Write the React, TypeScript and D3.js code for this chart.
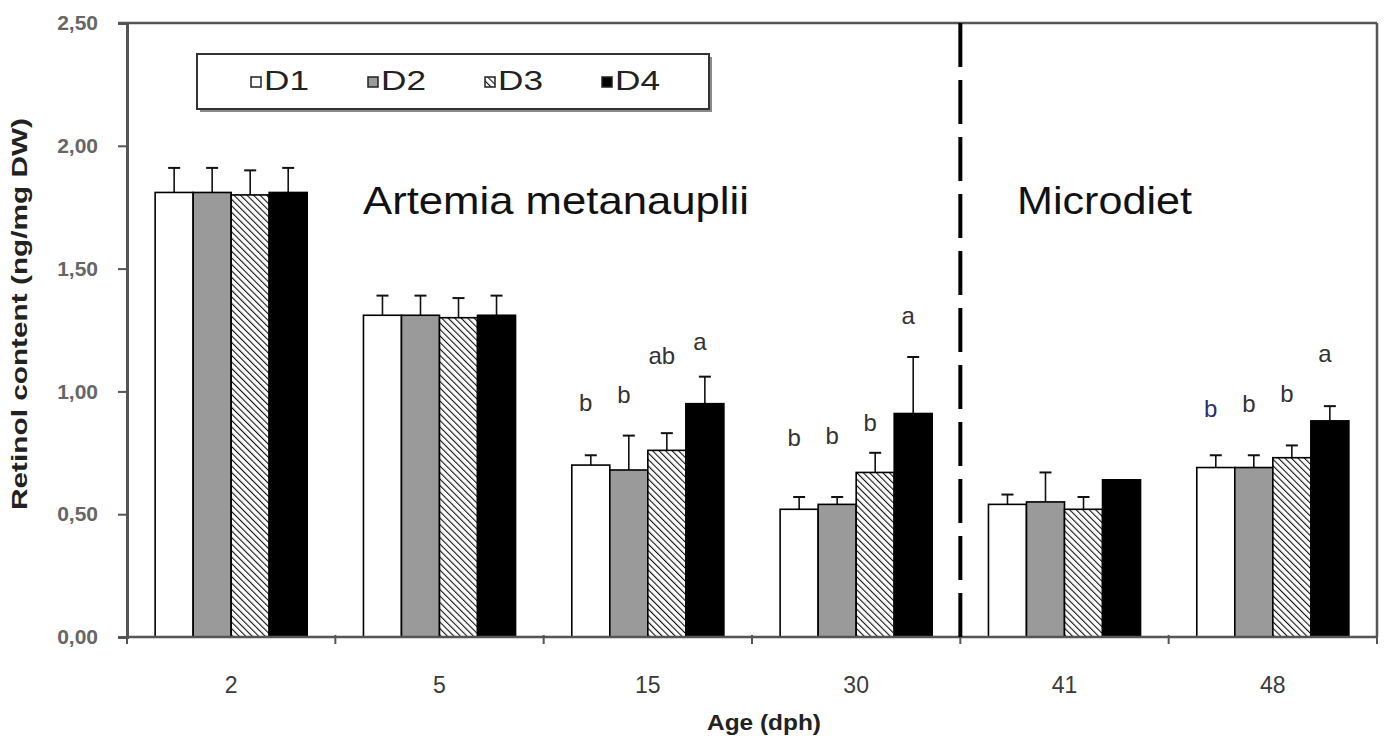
import * as d3 from 'd3';
import { useEffect, useRef } from 'react';

// ages (dph) and diets
const ages = ['2', '5', '15', '30', '41', '48'];
const diets = ['D1', 'D2', 'D3', 'D4'];

// retinol content (ng/mg DW), one array per diet
const d1Values = [1.81, 1.31, 0.70, 0.52, 0.54, 0.69];
const d2Values = [1.81, 1.31, 0.68, 0.54, 0.55, 0.69];
const d3Values = [1.80, 1.30, 0.76, 0.67, 0.52, 0.73];
const d4Values = [1.81, 1.31, 0.95, 0.91, 0.64, 0.88];

// standard deviations (upper bars only)
const d1Errors = [0.10, 0.08, 0.04, 0.05, 0.04, 0.05];
const d2Errors = [0.10, 0.08, 0.14, 0.03, 0.12, 0.05];
const d3Errors = [0.10, 0.08, 0.07, 0.08, 0.05, 0.05];
const d4Errors = [0.10, 0.08, 0.11, 0.23, 0, 0.06];

// significance letters and the level (in y units) where they sit
const d1Letters = ['', '', 'b', 'b', '', 'b'];
const d2Letters = ['', '', 'b', 'b', '', 'b'];
const d3Letters = ['', '', 'ab', 'b', '', 'b'];
const d4Letters = ['', '', 'a', 'a', '', 'a'];
const d1LetterLevels = [0, 0, 0.953, 0.81, 0, 0.932];
const d2LetterLevels = [0, 0, 0.985, 0.822, 0, 0.949];
const d3LetterLevels = [0, 0, 1.144, 0.871, 0, 0.993];
const d4LetterLevels = [0, 0, 1.201, 1.307, 0, 1.152];

const yTicks = [0, 0.5, 1, 1.5, 2, 2.5];
const phaseLabels = ['Artemia metanauplii', 'Microdiet'];
const phaseBreakAfter = '30';

const series = [
  { key: 'D1', values: d1Values, errors: d1Errors, letters: d1Letters, levels: d1LetterLevels },
  { key: 'D2', values: d2Values, errors: d2Errors, letters: d2Letters, levels: d2LetterLevels },
  { key: 'D3', values: d3Values, errors: d3Errors, letters: d3Letters, levels: d3LetterLevels },
  { key: 'D4', values: d4Values, errors: d4Errors, letters: d4Letters, levels: d4LetterLevels },
];

const W = 1385;
const H = 742;
const margin = { left: 127, top: 23, right: 8, bottom: 105 };
const FONT = '"Liberation Sans", Arial, sans-serif';

const fillFor = (k: string) =>
  k === 'D1' ? '#ffffff' : k === 'D2' ? '#9a9a9a' : k === 'D3' ? 'url(#hatch)' : '#000000';

export default function App() {
  const yAxisRef = useRef<SVGGElement>(null);

  const x = d3.scaleBand<string>()
    .domain(ages)
    .range([margin.left, W - margin.right])
    .paddingInner(0.27)
    .paddingOuter(0.135);
  const xInner = d3.scaleBand<string>().domain(diets).range([0, x.bandwidth()]);
  const y = d3.scaleLinear().domain([0, 2.5]).range([H - margin.bottom, margin.top]);

  const gap = (x.step() - x.bandwidth()) / 2;
  const boundaries = ages.map(a => (x(a) as number) - gap).concat([W - margin.right]);
  const breakX = (x(phaseBreakAfter) as number) + x.bandwidth() + gap;

  useEffect(() => {
    const g = d3.select(yAxisRef.current);
    const axis = d3.axisLeft(y)
      .tickValues(yTicks)
      .tickSize(9)
      .tickPadding(20)
      .tickFormat(d => d3.format('.2f')(d as number).replace('.', ','));
    g.call(axis as any);
    g.select('.domain').attr('stroke', '#555').attr('stroke-width', 3);
    g.selectAll('.tick line').attr('stroke', '#555').attr('stroke-width', 2);
    g.selectAll('.tick text')
      .attr('fill', '#666')
      .attr('font-size', 21)
      .attr('font-weight', 'bold')
      .attr('font-family', FONT);
  }, []);

  const x0 = margin.left;
  const y0 = y(0);

  return (
    <div style={{ position: 'absolute', left: 0, top: 0 }}>
      <svg width={W} height={H} style={{ display: 'block', background: '#fff' }}>
        <defs>
          <pattern id="hatch" width="4.6" height="4.6" patternUnits="userSpaceOnUse"
            patternTransform="rotate(-45)">
            <rect width="4.6" height="4.6" fill="#fff" />
            <line x1="0" y1="0" x2="0" y2="4.6" stroke="#111" strokeWidth="2.2" />
          </pattern>
        </defs>

        {/* frame: top and right */}
        <line x1={x0 - 9} x2={W - margin.right} y1={y(2.5)} y2={y(2.5)} stroke="#555" strokeWidth={2.5} />
        <line x1={W - margin.right} x2={W - margin.right} y1={y(2.5)} y2={y0} stroke="#555" strokeWidth={2.5} />

        {/* bars */}
        {ages.map((age, i) => (
          <g key={age} transform={`translate(${x(age)},0)`}>
            {series.map(s => {
              const bx = xInner(s.key) as number;
              const cx = bx + xInner.bandwidth() / 2;
              const v = s.values[i];
              const e = s.errors[i];
              return (
                <g key={s.key}>
                  {e > 0 && (
                    <g stroke="#111" strokeWidth={1.6}>
                      <line x1={cx} x2={cx} y1={y(v)} y2={y(v + e)} />
                      <line x1={cx - 6} x2={cx + 6} y1={y(v + e)} y2={y(v + e)} strokeWidth={2} />
                    </g>
                  )}
                  <rect x={bx} y={y(v)} width={xInner.bandwidth()} height={y0 - y(v)}
                    fill={fillFor(s.key)} stroke="#000" strokeWidth={1.6} />
                  {s.letters[i] && (
                    <text x={cx - 5} y={y(s.levels[i])} dy="0.35em" textAnchor="middle"
                      fontSize={24} fontFamily={FONT}
                      fill={age === '48' && s.key === 'D1' ? '#2e2e6e' : '#333'}>
                      {s.letters[i]}
                    </text>
                  )}
                </g>
              );
            })}
          </g>
        ))}

        {/* x axis */}
        <line x1={x0} x2={W - margin.right} y1={y0} y2={y0} stroke="#555" strokeWidth={2.5} />
        {boundaries.map((bx, i) => (
          <line key={i} x1={bx} x2={bx} y1={y0 - 2} y2={y0 + 7} stroke="#555" strokeWidth={2} />
        ))}
        {ages.map(age => (
          <text key={age} x={(x(age) as number) + x.bandwidth() / 2} y={y0 + 56}
            textAnchor="middle" fontSize={23} fontFamily={FONT} fill="#3a3a3a">
            {age}
          </text>
        ))}

        {/* y axis */}
        <g ref={yAxisRef} transform={`translate(${x0},0)`} />

        {/* phase separator */}
        <line x1={breakX} x2={breakX} y1={y(2.5)} y2={y0 + 10} stroke="#000" strokeWidth={4}
          strokeDasharray="44,13" />

        {/* phase labels */}
        <text x={363} y={214} fontSize={39} fontFamily={FONT} fill="#111"
          textLength={386} lengthAdjust="spacingAndGlyphs">{phaseLabels[0]}</text>
        <text x={1017} y={214} fontSize={39} fontFamily={FONT} fill="#111"
          textLength={175} lengthAdjust="spacingAndGlyphs">{phaseLabels[1]}</text>

        {/* axis titles */}
        <text transform="translate(27,314) rotate(-90)" textAnchor="middle" fontSize={22}
          fontWeight="bold" fontFamily={FONT} fill="#222"
          textLength={392} lengthAdjust="spacingAndGlyphs">
          Retinol content (ng/mg DW)
        </text>
        <text x={764} y={730} textAnchor="middle" fontSize={22} fontWeight="bold"
          fontFamily={FONT} fill="#222" textLength={114} lengthAdjust="spacingAndGlyphs">
          Age (dph)
        </text>

        {/* legend */}
        <g>
          <rect x={200} y={57} width={512} height={55} fill="#8a8a8a" />
          <rect x={197} y={54} width={512} height={55} fill="#fff" stroke="#333" strokeWidth={2} />
          {diets.map((d, i) => {
            const lx = 251 + i * 117;
            return (
              <g key={d}>
                <rect x={lx} y={77} width={10} height={10} fill={fillFor(d)} stroke="#222" strokeWidth={1.5} />
                <text x={lx + 13} y={90} fontSize={27} fontFamily={FONT} fill="#222"
                  textLength={45} lengthAdjust="spacingAndGlyphs">{d}</text>
              </g>
            );
          })}
        </g>
      </svg>
    </div>
  );
}
